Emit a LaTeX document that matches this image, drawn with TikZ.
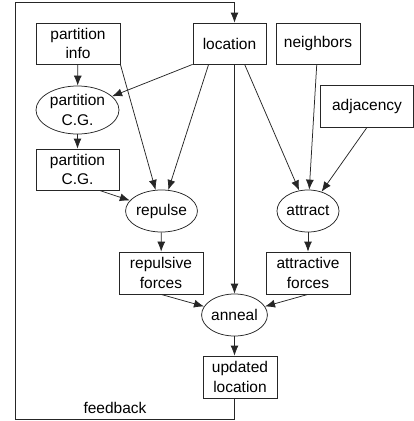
\documentclass[tikz,border=0pt]{standalone}
\usepackage{fontspec}
\setmainfont{Liberation Sans}
\usetikzlibrary{arrows.meta,shapes.geometric,calc}
\begin{document}
\begin{tikzpicture}[x=1pt,y=-1pt,
  every node/.style={font=\fontsize{15.5}{19.5}\selectfont,align=center,inner sep=0pt},
  boxn/.style={draw=black!85,line width=0.75pt,rectangle},
  elln/.style={draw=black!85,line width=0.75pt,ellipse},
  arr/.style={draw=black!85,line width=0.75pt,-{Latex[length=10pt,width=8pt]}},
  ln/.style={draw=black!85,line width=0.75pt}]
\useasboundingbox (0,0) rectangle (414,421);
% nodes
\node[boxn,minimum width=84pt,minimum height=41pt] (pinfo) at (78,43.5) {partition\\info};
\node[boxn,minimum width=73pt,minimum height=41pt] (loc) at (229.5,43.5) {location};
\node[boxn,minimum width=84pt,minimum height=41pt] (nbr) at (318,43.5) {neighbors};
\node[boxn,minimum width=93pt,minimum height=42pt] (adj) at (367,106) {adjacency};
\node[elln,minimum width=83pt,minimum height=48pt] (pcg) at (77.5,110) {partition\\C.G.};
\node[boxn,minimum width=83pt,minimum height=41pt] (pcgb) at (77.5,169.5) {partition\\C.G.};
\node[elln,minimum width=65pt,minimum height=42pt] (rep) at (161.5,211) {repulse};
\node[elln,minimum width=62pt,minimum height=42pt] (att) at (308,211) {attract};
\node[boxn,minimum width=84pt,minimum height=42pt] (repf) at (161,273) {repulsive\\forces};
\node[boxn,minimum width=84pt,minimum height=42pt] (attf) at (308,273) {attractive\\forces};
\node[elln,minimum width=63pt,minimum height=42pt] (ann) at (234.5,315) {anneal};
\node[boxn,minimum width=74pt,minimum height=42pt] (upd) at (240,377) {updated\\location};
\node (fbl) at (115,408) {feedback};
\coordinate (fb1) at (234.5,419);
\coordinate (fb2) at (15,419);
\coordinate (fb3) at (15,2);
\coordinate (fb4) at (234.5,2);
% edges
\draw[arr] (pinfo) -- (pcg);
\draw[arr] (loc.south west) -- (pcg);
\draw[arr] (pinfo.south east) -- (rep);
\draw[arr] ([xshift=16pt]loc.south west) -- (rep);
\draw[arr] (pcg) -- (pcgb);
\draw[arr] ([xshift=-20pt]pcgb.south east) -- (rep);
\draw[arr] (rep) -- (repf);
\draw[arr] (ann.north |- loc.south) -- (ann);
\draw[arr] ([xshift=52pt]loc.south west) -- (att);
\draw[arr] (nbr) -- (att);
\draw[arr] (adj.south) -- (att);
\draw[arr] (att) -- (attf);
\draw[arr] (repf.south) -- (ann);
\draw[arr] (attf.south) -- (ann);
\draw[arr] (ann) -- (ann |- upd.north);
\draw[ln] (ann |- upd.south) -- (fb1) -- (fb2) -- (fb3) -- (fb4);
\draw[arr] (fb4) -- (ann |- loc.north);
\end{tikzpicture}
\end{document}
